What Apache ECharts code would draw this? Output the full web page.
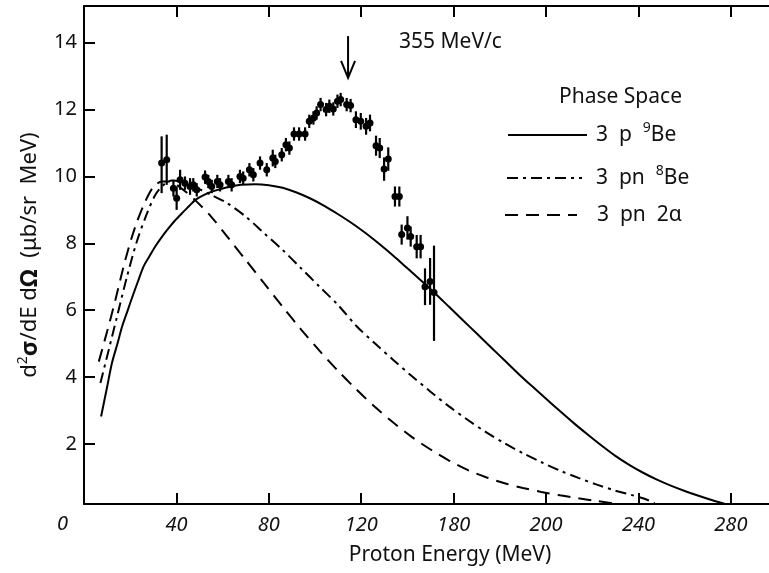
<!DOCTYPE html>
<html>
<head>
<meta charset="utf-8">
<script src="https://cdn.jsdelivr.net/npm/echarts@6/dist/echarts.min.js"></script>
<style>
html,body{margin:0;padding:0;background:#fff;}
#chart{width:769px;height:573px;}
</style>
</head>
<body>
<div id="chart"></div>
<script>
// ---- Data ----
const dataEnergy = [33.6,35.8,38.7,40.1,41.6,43.7,45.9,47.3,48.8,52.4,53.8,55.3,57.7,58.9,62.5,63.9,67.5,68.9,71.6,73.3,76.2,79.1,81.7,82.8,85.6,87.4,88.9,90.9,93.1,95.7,97.5,99.3,100.7,102.4,104.8,106.2,107.9,109.7,111.1,113.7,115.4,117.7,119.8,122.1,123.8,126.4,128.0,129.9,131.7,134.6,136.5,137.5,140.0,141.4,144.0,145.7,147.6,149.8,151.5];
const dataValue  = [10.4,10.5,9.65,9.35,9.9,9.8,9.7,9.75,9.6,9.98,9.85,9.7,9.85,9.75,9.85,9.75,10.0,9.95,10.2,10.05,10.4,10.2,10.55,10.45,10.65,10.95,10.85,11.27,11.27,11.27,11.65,11.75,11.9,12.15,12.0,12.1,12.02,12.25,12.3,12.15,12.12,11.7,11.65,11.5,11.6,10.92,10.85,10.22,10.52,9.4,9.4,8.26,8.46,8.2,7.9,7.9,6.7,6.86,6.53];
const dataErrUp  = [0.8,0.75,0.25,0.35,0.3,0.2,0.25,0.2,0.2,0.2,0.2,0.2,0.2,0.2,0.2,0.2,0.2,0.2,0.2,0.2,0.2,0.2,0.25,0.2,0.2,0.2,0.2,0.2,0.2,0.2,0.2,0.2,0.2,0.2,0.2,0.2,0.2,0.2,0.2,0.2,0.2,0.25,0.25,0.25,0.25,0.3,0.3,0.35,0.35,0.3,0.3,0.3,0.35,0.3,0.35,0.35,0.55,0.7,1.4];
const dataErrDown= [0.9,0.75,0.25,0.35,0.3,0.2,0.25,0.2,0.2,0.2,0.2,0.2,0.2,0.2,0.2,0.2,0.2,0.2,0.2,0.2,0.2,0.2,0.25,0.2,0.2,0.2,0.2,0.2,0.2,0.2,0.2,0.2,0.2,0.2,0.2,0.2,0.2,0.2,0.2,0.2,0.2,0.25,0.25,0.25,0.25,0.3,0.3,0.35,0.35,0.3,0.3,0.3,0.35,0.3,0.35,0.35,0.55,0.7,1.45];

// Phase space: 3 p 9Be (solid)
const solidE = [7.4,10,12.1,14.5,16.5,18.7,20.8,23.3,25.8,28.4,30.9,33.8,36.7,39.5,42.4,45.3,48.2,52,56,62,68,74,80,86,92,98,104,110,116,122,128,134,140,146,152,158,164,170,176,182,188,194,200,206,212,218,224,230,236,242,248,254,260,266,272,277.5];
const solidV = [2.82,3.7,4.42,5.0,5.51,5.95,6.37,6.85,7.31,7.62,7.91,8.2,8.46,8.69,8.9,9.1,9.3,9.45,9.56,9.68,9.75,9.77,9.74,9.66,9.52,9.34,9.12,8.87,8.6,8.3,7.97,7.62,7.25,6.88,6.5,6.1,5.7,5.3,4.9,4.5,4.1,3.72,3.35,2.98,2.62,2.28,1.95,1.64,1.37,1.135,0.93,0.75,0.59,0.445,0.31,0.2];
// Phase space: 3 pn 8Be (dash-dot)
const ddE = [7.1,10.7,14.3,18.6,22.9,27.3,30.9,34.5,38,42,48,55,62,70,78,86,94,102,110,118,126,134,142,150,158,166,174,182,190,198,206,214,222,230,238,244,247];
const ddV = [3.82,4.81,5.81,7.0,8.06,8.9,9.45,9.75,9.88,9.84,9.68,9.45,9.2,8.8,8.3,7.8,7.25,6.7,6.15,5.52,5.0,4.5,4.02,3.56,3.12,2.72,2.35,2.02,1.72,1.45,1.2,0.98,0.78,0.6,0.45,0.32,0.22];
// Phase space: 3 pn 2alpha (dashed)
const dashE = [6.4,10,13.6,17.9,22.2,26.5,30.2,33.8,37,42,48,55,62,70,78,86,94,102,110,118,126,134,142,150,158,166,174,182,190,198,206,214,222,229];
const dashV = [4.46,5.36,6.31,7.51,8.5,9.25,9.7,9.85,9.85,9.65,9.3,8.8,8.2,7.5,6.8,6.1,5.42,4.78,4.18,3.62,3.1,2.63,2.2,1.83,1.5,1.22,1.0,0.82,0.68,0.56,0.46,0.37,0.29,0.22];

// arrow annotation (energy, top value, tip value)
const arrowMark = [[114.3, 14.2, 12.95]];

// ticks
const xTickValues = [40,80,120,160,200,240,280];
const xTickLabels = ['40','80','120','180','200','240','280'];
const yTickValues = [2,4,6,8,10,12,14];

// ---- Chart ----
const chart = echarts.init(document.getElementById('chart'), null, {renderer:'canvas'});
const FONT = 'Noto Sans';
const zip = (a,b) => a.map((v,i)=>[v,b[i]]);
const errData = dataEnergy.map((e,i)=>[e, dataValue[i], dataValue[i]-dataErrDown[i], dataValue[i]+dataErrUp[i]]);

const axisLine = {show:true, lineStyle:{color:'#000', width:2}};
const tickStyle = {color:'#000', width:2};
const legendRich = {
  n:{fontFamily:FONT, fontSize:21, fill:'#111', lineHeight:28},
  s:{fontFamily:FONT, fontSize:14, fill:'#111', verticalAlign:'top', lineHeight:28}
};

const option = {
  animation:false,
  backgroundColor:'#fff',
  grid:{left:84, right:0, top:6, bottom:69, containLabel:false},
  xAxis:[{
    type:'value', min:0, max:296.5, position:'bottom',
    axisLine:axisLine,
    axisTick:{show:true, inside:true, length:11, lineStyle:tickStyle, customValues:xTickValues},
    axisLabel:{show:true, margin:11, fontFamily:FONT, fontSize:20, fontStyle:'italic', color:'#111',
      customValues:xTickValues,
      formatter:v=>{const i=xTickValues.indexOf(v); return i>=0?xTickLabels[i]:'';}},
    splitLine:{show:false}
  },{
    type:'value', min:0, max:296.5, position:'top',
    axisLine:axisLine,
    axisTick:{show:true, inside:true, length:11, lineStyle:tickStyle, customValues:xTickValues},
    axisLabel:{show:false},
    splitLine:{show:false}
  }],
  yAxis:[{
    type:'value', min:0.2, max:15.1, position:'left',
    axisLine:axisLine,
    axisTick:{show:true, inside:true, length:11, lineStyle:tickStyle, customValues:yTickValues},
    axisLabel:{show:true, margin:7, fontFamily:FONT, fontSize:20, color:'#111', customValues:yTickValues},
    splitLine:{show:false},
    name:'{n|d}{s|2}{b|σ}{n|/dE d}{b|Ω}{n|  (μb/sr  MeV)}',
    nameLocation:'middle', nameGap:40, nameRotate:90,
    nameTextStyle:{
      rich:{
        n:{fontFamily:FONT, fontSize:22, color:'#111', lineHeight:28},
        b:{fontFamily:FONT, fontSize:24, fontWeight:'bold', color:'#111', lineHeight:28},
        s:{fontFamily:FONT, fontSize:14, color:'#111', verticalAlign:'top', lineHeight:28}
      }
    }
  }],
  series:[
    {type:'line', name:'3 p 9Be', data:zip(solidE, solidV), smooth:0.3, showSymbol:false,
      lineStyle:{color:'#000', width:2}, z:2},
    {type:'line', name:'3 pn 8Be', data:zip(ddE, ddV), smooth:0.3, showSymbol:false,
      lineStyle:{color:'#000', width:2, type:[11,5,3,5]}, z:2},
    {type:'line', name:'3 pn 2a', data:zip(dashE, dashV), smooth:0.3, showSymbol:false,
      lineStyle:{color:'#000', width:2, type:[13,8]}, z:2},
    {type:'custom', name:'data', data:errData, encode:{x:0, y:1}, z:5,
      renderItem:(params, api)=>{
        const x=api.value(0), y=api.value(1), lo=api.value(2), hi=api.value(3);
        const p=api.coord([x,y]), pl=api.coord([x,lo]), ph=api.coord([x,hi]);
        return {type:'group', children:[
          {type:'line', shape:{x1:pl[0],y1:pl[1],x2:ph[0],y2:ph[1]}, style:{stroke:'#000', lineWidth:2.2}},
          {type:'circle', shape:{cx:p[0],cy:p[1],r:3.5}, style:{fill:'#000'}}
        ]};
      }},
    {type:'custom', name:'arrow', data:arrowMark, encode:{x:0, y:1}, z:5,
      renderItem:(params, api)=>{
        const x=api.value(0), top=api.value(1), tip=api.value(2);
        const a=api.coord([x,top]), b=api.coord([x,tip]);
        return {type:'group', children:[
          {type:'line', shape:{x1:a[0],y1:a[1],x2:b[0],y2:b[1]}, style:{stroke:'#000', lineWidth:2}},
          {type:'polyline', shape:{points:[[b[0]-7,b[1]-17],[b[0],b[1]],[b[0]+7,b[1]-17]]}, style:{stroke:'#000', lineWidth:2, fill:null}}
        ]};
      }}
  ],
  graphic:[
    {type:'text', left:57, top:514, style:{text:'0', fontFamily:FONT, fontSize:20, fontStyle:'italic', fill:'#111'}},
    {type:'text', x:450, y:555, style:{text:'Proton Energy (MeV)', fontFamily:FONT, fontSize:21, fill:'#111', align:'center', verticalAlign:'middle'}},
    {type:'text', x:399, y:42, style:{text:'355 MeV/c', fontFamily:FONT, fontSize:21, fill:'#111', verticalAlign:'middle'}},
    {type:'text', x:559, y:97, style:{text:'Phase Space', fontFamily:FONT, fontSize:21, fill:'#111', verticalAlign:'middle'}},
    {type:'line', shape:{x1:508,y1:135,x2:587,y2:135}, style:{stroke:'#000', lineWidth:2}},
    {type:'line', shape:{x1:507,y1:178,x2:582,y2:178}, style:{stroke:'#000', lineWidth:2, lineDash:[11,5,3,5]}},
    {type:'line', shape:{x1:505,y1:215,x2:577,y2:215}, style:{stroke:'#000', lineWidth:2, lineDash:[13,8]}},
    {type:'text', x:596, y:135, style:{text:'{n|3  p  }{s|9}{n|Be}', verticalAlign:'middle', rich:legendRich}},
    {type:'text', x:596, y:178, style:{text:'{n|3  pn  }{s|8}{n|Be}', verticalAlign:'middle', rich:legendRich}},
    {type:'text', x:597, y:215, style:{text:'3  pn  2α', fontFamily:FONT, fontSize:21, fill:'#111', verticalAlign:'middle'}}
  ]
};
chart.setOption(option);
</script>
</body>
</html>
